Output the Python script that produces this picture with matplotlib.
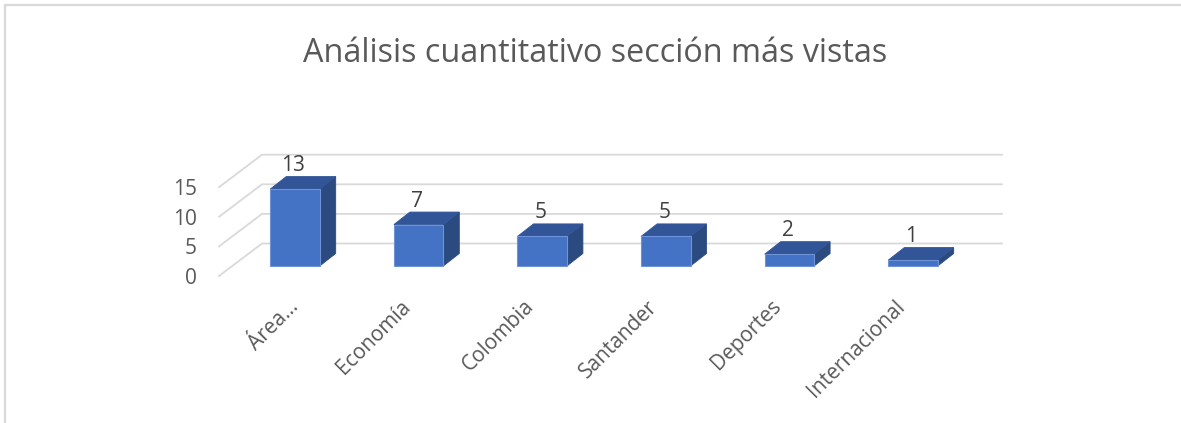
import matplotlib
matplotlib.use("Agg")
import matplotlib.pyplot as plt
from matplotlib.patches import Polygon

categories = ["Área...", "Economía", "Colombia", "Santander", "Deportes", "Internacional"]
label_shift_px = [12, 0, 0, 0, 0, 0]
values = [13, 7, 5, 5, 2, 1]
y_ticks = [0, 5, 10, 15]
title = "Análisis cuantitativo sección más vistas"

W, H = 1181, 423
X0, DX = 295.0, 123.6   # pixel centre of first category, category spacing
Y0, DY = 266.0, 5.92    # pixel of value 0 at bar front, pixels per unit

fig = plt.figure(figsize=(W / 100, H / 100), dpi=100, facecolor="white")
ax = fig.add_axes([0, 0, 1, 1])
ax.set_xlim(-X0 / DX, (W - X0) / DX)
ax.set_ylim(-(H - Y0) / DY, Y0 / DY)
ax.axis("off")

px = lambda p: p / DX   # pixel length -> x data length
py = lambda p: p / DY   # pixel length -> y data length

plt.rcParams["font.family"] = ["Open Sans", "DejaVu Sans"]
GRID = "#D9D9D9"
FRONT, TOP, SIDE, EDGE = "#4472C4", "#325598", "#2A4A80", "#6F93D6"
TXT, LBL = "#595959", "#404040"

# gridlines on the wall and floor
x_wall_l = (262 - X0) / DX
x_wall_r = (1002 - X0) / DX
x_front = (219 - X0) / DX
for v in y_ticks:
    y_back = v + py(Y0 - 243.5)
    y_fr = v - py(276 - Y0)
    ax.plot([x_front, x_wall_l, x_wall_r], [y_fr, y_back, y_back],
            color=GRID, lw=1.3, solid_joinstyle="miter", zorder=1)
    ax.text((197 - X0) / DX, v - py(276 - Y0) - py(2.5), str(v), ha="right", va="center",
            fontsize=15, color=TXT, zorder=5)

# bars with oblique depth
hw = px(24.7)
dxd, dyd = px(16), py(12.5)
for i, (c, v) in enumerate(zip(categories, values)):
    l, r = i - hw, i + hw
    ax.add_patch(Polygon([(r, 0), (r + dxd, dyd), (r + dxd, v + dyd), (r, v)],
                         fc=SIDE, ec=SIDE, lw=0.6, zorder=3))
    ax.add_patch(Polygon([(l, v), (r, v), (r + dxd, v + dyd), (l + dxd, v + dyd)],
                         fc=TOP, ec=TOP, lw=0.6, zorder=3))
    ax.add_patch(Polygon([(l, 0), (r, 0), (r, v), (l, v)],
                         fc=FRONT, ec=EDGE, lw=0.8, zorder=4))
    ax.text(i - px(1.5), v + dyd + py(11), str(v), ha="center", va="center",
            fontsize=15, color=LBL, zorder=5)
    ax.text(i + px(label_shift_px[i] - 19), -py(30), c, ha="right", va="top", rotation=45,
            rotation_mode="anchor", fontsize=15, color=TXT, zorder=5)

# title
ax.text((595 - X0) / DX, (Y0 - 53) / DY, title, ha="center", va="center",
        fontsize=23.3, color=TXT)

# chart-area border, only top and left visible
ax.plot([(5.5 - X0) / DX, (5.5 - X0) / DX, (1181 - X0) / DX],
        [-(H - Y0) / DY, (Y0 - 5) / DY, (Y0 - 5) / DY],
        color=GRID, lw=1.6, solid_joinstyle="miter", zorder=1)

fig.savefig("out.png", dpi=100)
